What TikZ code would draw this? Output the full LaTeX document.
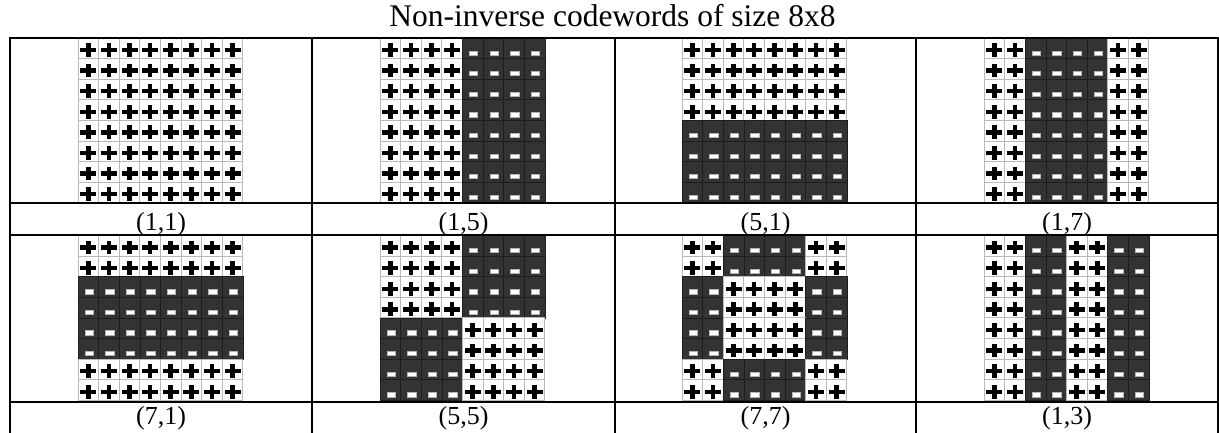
\documentclass[tikz,border=0pt]{standalone}
\usepackage{fontspec}
\setmainfont{Liberation Serif}
\definecolor{darkcell}{RGB}{51,51,51}
\definecolor{darkedge}{RGB}{30,30,30}
\definecolor{lightedge}{RGB}{185,185,185}
\tikzset{
  tbl/.style={line width=2pt, black},
  pcell/.style={fill=white, draw=lightedge, line width=0.9pt},
  mcell/.style={fill=darkcell, draw=darkedge, line width=0.6pt},
  pbar/.style={fill=black},
  mbar/.style={fill=white, draw=gray!60, line width=0.5pt},
  lbl/.style={font=\fontsize{26}{30}\selectfont, anchor=base, inner sep=0pt},
  ttl/.style={font=\fontsize{31.5}{36}\selectfont, anchor=base, inner sep=0pt},
}
% #1 x0, #2 y0, #3 cell size, #4 row signs, #5 column signs
\newcommand\cwgrid[5]{%
  \foreach \rv [count=\ri from 0] in {#4} {
    \foreach \cv [count=\ci from 0] in {#5} {
      \pgfmathsetmacro\xa{#1+\ci*#3}
      \pgfmathsetmacro\ya{#2+\ri*#3}
      \pgfmathsetmacro\cx{\xa+#3/2}
      \pgfmathsetmacro\cy{\ya+#3/2}
      \pgfmathtruncatemacro\sg{\rv*\cv}
      \ifnum\sg>0
        \draw[pcell] (\xa,\ya) rectangle ++(#3,#3);
        \fill[pbar] (\cx-8,\cy-0.5) rectangle (\cx+8,\cy+4);
        \fill[pbar] (\cx-2.25,\cy-5.2) rectangle (\cx+2.25,\cy+8.6);
      \else
        \draw[mcell] (\xa,\ya) rectangle ++(#3,#3);
        \draw[mbar] (\cx-3.5,\cy+2.5) rectangle (\cx+5,\cy+6.8);
      \fi
    }
  }
}
\begin{document}
\begin{tikzpicture}[x=1pt,y=-1pt]
\useasboundingbox (0,0) rectangle (1219,433);
\def\cs{20.6}
% row 1 grids
\cwgrid{78}{38}{\cs}{1,1,1,1,1,1,1,1}{1,1,1,1,1,1,1,1}
\cwgrid{380}{38}{\cs}{1,1,1,1,1,1,1,1}{1,1,1,1,-1,-1,-1,-1}
\cwgrid{682}{38}{\cs}{1,1,1,1,-1,-1,-1,-1}{1,1,1,1,1,1,1,1}
\cwgrid{984}{38}{\cs}{1,1,1,1,1,1,1,1}{1,1,-1,-1,-1,-1,1,1}
% row 2 grids
\cwgrid{78}{235.5}{\cs}{1,1,-1,-1,-1,-1,1,1}{1,1,1,1,1,1,1,1}
\cwgrid{380}{235.5}{\cs}{1,1,1,1,-1,-1,-1,-1}{1,1,1,1,-1,-1,-1,-1}
\cwgrid{682}{235.5}{\cs}{1,1,-1,-1,-1,-1,1,1}{1,1,-1,-1,-1,-1,1,1}
\cwgrid{984}{235.5}{\cs}{1,1,1,1,1,1,1,1}{1,1,-1,-1,1,1,-1,-1}
% table rules
\draw[tbl] (10,38) -- (1218,38);
\draw[tbl] (10,203) -- (1218,203);
\draw[tbl] (10,235) -- (1218,235);
\draw[tbl] (10,401.5) -- (1218,401.5);
\foreach \x in {10,312,614.5,916,1217.5} \draw[tbl] (\x,37) -- (\x,433);
% title and labels
\node[ttl] (title) at (612.5,27) {Non-inverse codewords of size 8x8};
\node[lbl] (l11) at (161,230) {(1,1)};
\node[lbl] (l15) at (463.5,230) {(1,5)};
\node[lbl] (l51) at (765.5,230) {(5,1)};
\node[lbl] (l17) at (1067,230) {(1,7)};
\node[lbl] (l71) at (161,424) {(7,1)};
\node[lbl] (l55) at (463.5,424) {(5,5)};
\node[lbl] (l77) at (765.5,424) {(7,7)};
\node[lbl] (l13) at (1067,424) {(1,3)};
\end{tikzpicture}
\end{document}
